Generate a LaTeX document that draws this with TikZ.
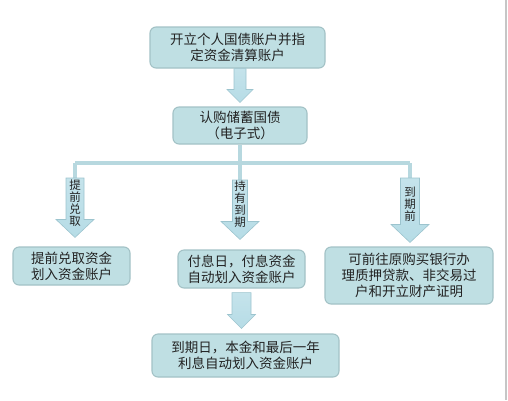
\documentclass[tikz,border=0pt]{standalone}
\usepackage{fontspec}
\setmainfont{Noto Sans CJK SC}
\usepackage{tikz}
\usetikzlibrary{calc}

\definecolor{boxfill}{HTML}{BFDFE3}
\definecolor{boxline}{HTML}{A3C2C6}
\definecolor{arrfill}{HTML}{B6DCE6}
\definecolor{arrline}{HTML}{9CC4CE}
\definecolor{busline}{HTML}{B7D8DF}
\definecolor{txt}{HTML}{222222}

% fat down arrow: start, tip, shaft half, head half, head length
\newcommand\fatarrow[5]{%
  \path[arrowbody] let \p1=(#1), \p2=(#2) in
    (\x1-#3pt,\y1) -- (\x1+#3pt,\y1) -- (\x1+#3pt,\y2+#5pt) -- (\x1+#4pt,\y2+#5pt)
    -- (\x1,\y2) -- (\x1-#4pt,\y2+#5pt) -- (\x1-#3pt,\y2+#5pt) -- cycle;}

\begin{document}
\begin{tikzpicture}[x=1pt,y=-1pt,font=\fontsize{13.5}{16}\selectfont,text=txt]
  \tikzstyle{step box}=[draw=boxline,line width=1.1pt,fill=boxfill,rounded corners=6pt,
                        align=center,inner sep=0pt]
  \tikzstyle{arrowbody}=[draw=arrline,line width=0.6pt,top color=arrfill!80!white,
                         bottom color=arrfill]
  \tikzstyle{bus}=[busline,line width=4pt]
  \tikzstyle{tag}=[font=\fontsize{11.5}{11.8}\selectfont,align=center,inner sep=0pt]

  \useasboundingbox (0,0) rectangle (508,400);
  \draw[gray!45,line width=2pt] (506,0) -- (506,400);

  \node[step box,minimum width=175pt,minimum height=41pt] (open) at (237.5,47.5)
       {开立个人国债账户并指\\定资金清算账户};
  \node[step box,minimum width=134pt,minimum height=37pt] (buy) at (240,125.5)
       {认购储蓄国债\\（电子式）};
  \node[step box,minimum width=117pt,minimum height=38pt] (early) at (71.5,266)
       {提前兑取资金\\划入资金账户};
  \node[step box,minimum width=127pt,minimum height=38pt] (hold) at (241.5,269)
       {付息日，付息资金\\自动划入资金账户};
  \node[step box,minimum width=168pt,minimum height=57pt] (before) at (409,275.5)
       {可前往原购买银行办\\理质押贷款、非交易过\\户和开立财产证明};
  \node[step box,minimum width=187pt,minimum height=43pt] (due) at (245.5,355.5)
       {到期日，本金和最后一年\\利息自动划入资金账户};

  % branch lines
  \coordinate (j1) at (75,163);
  \coordinate (j2) at (240,163);
  \coordinate (j3) at (410,163);
  \coordinate (s1) at (75,178);
  \coordinate (s2) at (240,180);
  \coordinate (s3) at (410,178);
  \draw[bus] (buy.south) -- (j2);
  \draw[bus] (j1) -- (j3);
  \draw[bus] (j1) -- (s1);
  \draw[bus] (j2) -- (s2);
  \draw[bus] (j3) -- (s3);

  \fatarrow{buy.north |- open.south}{[yshift=4pt]buy.north}{6}{13}{13}
  \fatarrow{s1}{[yshift=9pt]early.north}{9}{19}{18}
  \fatarrow{s2}{[yshift=10pt]hold.north}{7.5}{19}{18}
  \fatarrow{s3}{[yshift=4pt]before.north}{9.5}{19}{18}
  \fatarrow{[yshift=-4pt]hold.south}{[yshift=5pt]due.north}{9.5}{14}{14}

  \node[tag] (t1) at (75,203) {提\\前\\兑\\取};
  \node[tag] (t2) at (240,204) {持\\有\\到\\期};
  \node[tag] (t3) at (410,204) {到\\期\\前};
\end{tikzpicture}
\end{document}
